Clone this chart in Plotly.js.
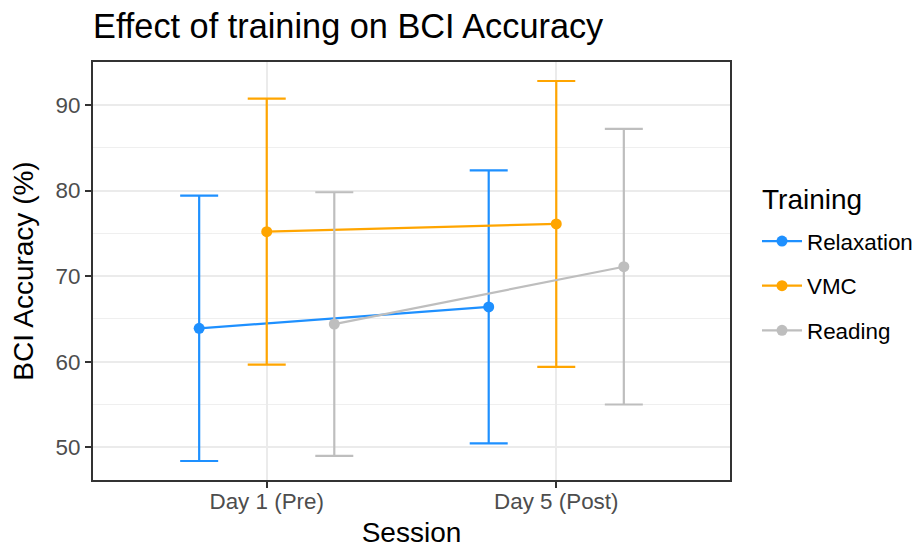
<!DOCTYPE html>
<html>
<head>
<meta charset="utf-8">
<script src="https://cdn.plot.ly/plotly-3.0.1.min.js"></script>
<style>
  html, body { margin: 0; padding: 0; background: #ffffff; }
  #chart { width: 917px; height: 548px; }
</style>
</head>
<body>
<div id="chart"></div>
<script>
// Sessions on the x axis and the three training groups
const sessions = ['Day 1 (Pre)', 'Day 5 (Post)'];
const trainings = ['Relaxation', 'VMC', 'Reading'];

// Mean BCI accuracy (%) and standard deviation per session
const meanRelaxation = [63.9, 66.4];
const sdRelaxation   = [15.5, 15.95];
const meanVMC        = [75.2, 76.1];
const sdVMC          = [15.55, 16.7];
const meanReading    = [64.4, 71.1];
const sdReading      = [15.4, 16.1];

const means = [meanRelaxation, meanVMC, meanReading];
const sds   = [sdRelaxation, sdVMC, sdReading];
const colours = ['#1E90FF', '#FFA500', '#BEBEBE'];

// Side-by-side dodge of the groups within each session
const dodgeWidth = 0.7;
const nGroups = trainings.length;
const sessionPos = sessions.map((_, i) => i + 1);
function dodged(g) {
  return sessionPos.map(p => p + (g - (nGroups - 1) / 2) * dodgeWidth / nGroups);
}

const traces = trainings.map((name, g) => ({
  type: 'scatter',
  mode: 'lines+markers',
  name: name,
  legendgroup: name,
  x: dodged(g),
  y: means[g],
  line: { color: colours[g], width: 2.2 },
  marker: { color: colours[g], size: 11 },
  error_y: {
    type: 'data',
    array: sds[g],
    visible: true,
    color: colours[g],
    thickness: 2.2,
    width: 19
  },
  hoverinfo: 'x+y'
}));

// y range: data extent with 5% padding
let lo = Infinity, hi = -Infinity;
means.forEach((m, g) => m.forEach((v, i) => {
  lo = Math.min(lo, v - sds[g][i]);
  hi = Math.max(hi, v + sds[g][i]);
}));
const pad = (hi - lo) * 0.05;

const font = 'Liberation Sans, Arial, Helvetica, sans-serif';

const layout = {
  width: 917,
  height: 548,
  paper_bgcolor: '#ffffff',
  plot_bgcolor: '#ffffff',
  margin: { l: 93, r: 187, t: 62, b: 68 },
  font: { family: font, color: '#000000' },
  title: {
    text: 'Effect of training on BCI Accuracy',
    font: { family: font, size: 34.3, color: '#000000' },
    xref: 'paper', x: 0, xanchor: 'left',
    yref: 'container', y: 1 - 26 / 548, yanchor: 'middle'
  },
  xaxis: {
    range: [0.4, sessions.length + 0.6],
    tickvals: sessionPos,
    ticktext: sessions,
    tickfont: { family: font, size: 22.4, color: '#4D4D4D' },
    ticks: 'outside', ticklen: 6, tickwidth: 2, tickcolor: '#333333',
    ticklabelstandoff: -6,
    showline: true, linecolor: '#333333', linewidth: 2, mirror: true,
    showgrid: true, gridcolor: '#EBEBEB', gridwidth: 2,
    zeroline: false,
    title: { text: 'Session', font: { family: font, size: 28, color: '#000000' }, standoff: 13 }
  },
  yaxis: {
    range: [lo - pad, hi + pad],
    tickvals: [50, 60, 70, 80, 90],
    tickfont: { family: font, size: 22.4, color: '#4D4D4D' },
    ticks: 'outside', ticklen: 6, tickwidth: 2, tickcolor: '#333333',
    showline: true, linecolor: '#333333', linewidth: 2, mirror: true,
    showgrid: true, gridcolor: '#EBEBEB', gridwidth: 2,
    minor: { tick0: 45, dtick: 10, showgrid: true, gridcolor: '#EFEFEF', gridwidth: 1, ticks: '' },
    zeroline: false,
    title: { text: 'BCI Accuracy (%)', font: { family: font, size: 28, color: '#000000' }, standoff: 14 }
  },
  legend: {
    font: { family: font, size: 22.4, color: '#000000' },
    xref: 'container', x: 757 / 917, xanchor: 'left',
    yref: 'container', y: 1 - 220 / 548, yanchor: 'top',
    traceorder: 'grouped',
    tracegroupgap: 12.5,
    itemwidth: 40,
    bgcolor: 'rgba(0,0,0,0)'
  },
  annotations: [{
    text: 'Training',
    xref: 'paper', yref: 'paper',
    x: (760 - 93) / 637, xanchor: 'left',
    y: (480 - 199) / 418, yanchor: 'middle',
    showarrow: false,
    font: { family: font, size: 28, color: '#000000' }
  }],
  showlegend: true
};

Plotly.newPlot('chart', traces, layout, { displayModeBar: false, staticPlot: true });
</script>
</body>
</html>
